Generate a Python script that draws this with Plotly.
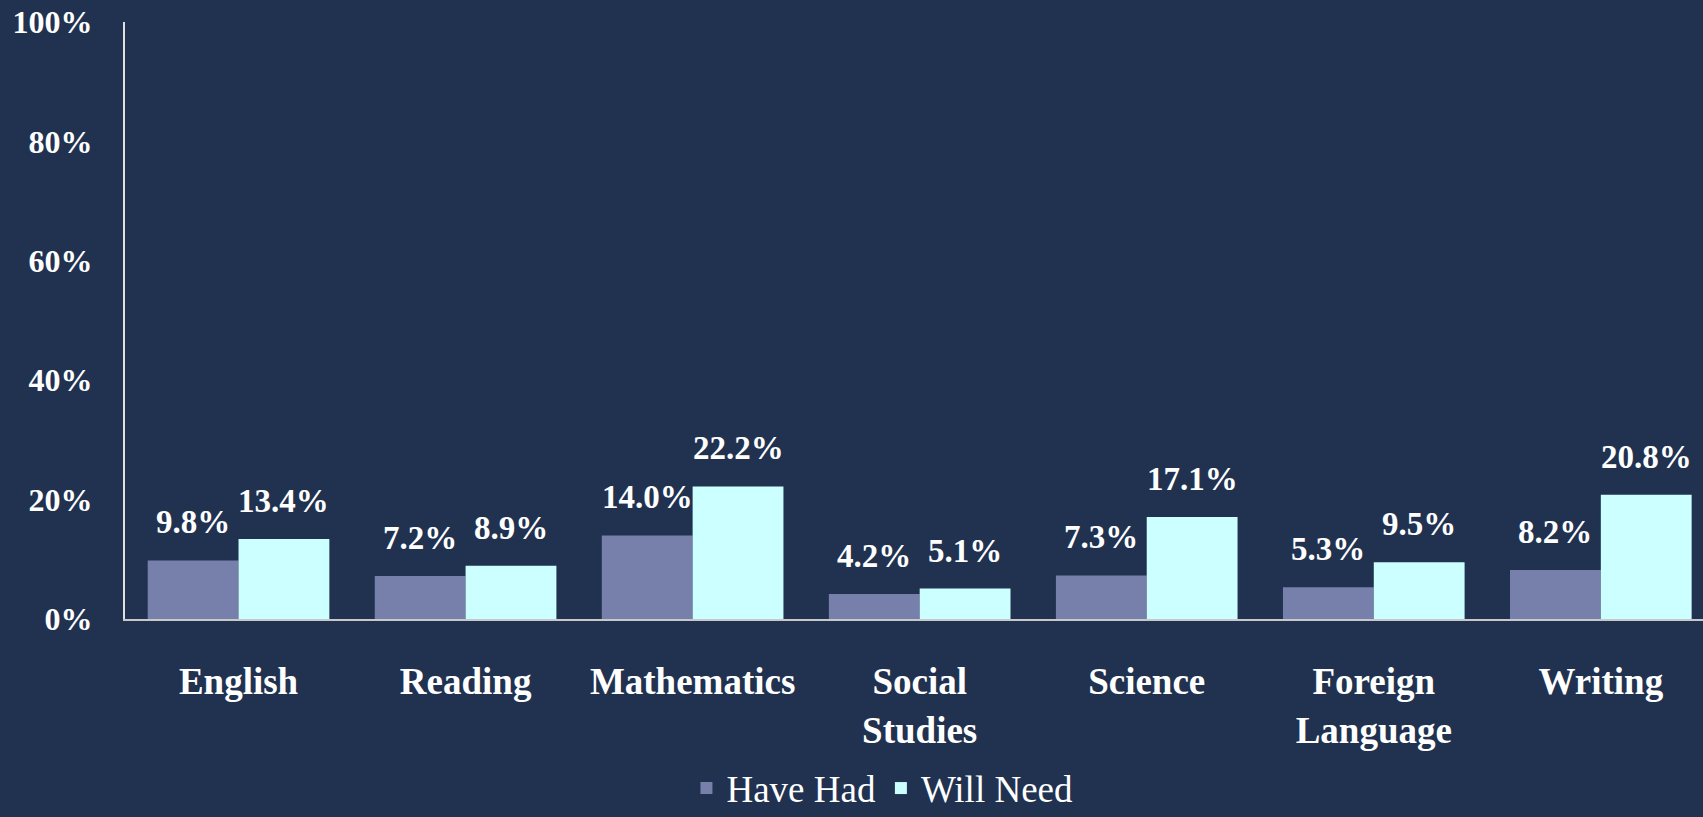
import plotly.graph_objects as go

categories = ["English", "Reading", "Mathematics", "Social<br>Studies", "Science", "Foreign<br>Language", "Writing"]
have_had = [9.8, 7.2, 14.0, 4.2, 7.3, 5.3, 8.2]
will_need = [13.4, 8.9, 22.2, 5.1, 17.1, 9.5, 20.8]
y_ticks = [0, 20, 40, 60, 80, 100]

BG = "#213250"
FONT = "Liberation Serif"
C_HAD = "#7680AB"
C_NEED = "#CCFFFF"

fig = go.Figure()
fig.add_trace(go.Bar(name="Have Had", x=list(range(len(categories))), y=have_had,
                     marker_color=C_HAD, marker_line_width=0))
fig.add_trace(go.Bar(name="Will Need", x=list(range(len(categories))), y=will_need,
                     marker_color=C_NEED, marker_line_width=0))

# value labels placed above each bar (group offset = +/- a quarter of the group width)
bargap = 0.2
half = (1 - bargap) / 4
for i, (a, b) in enumerate(zip(have_had, will_need)):
    for off, v in ((-half, a), (half, b)):
        fig.add_annotation(x=i + off, y=v, xref="x", yref="y", text=f"{v:.1f}%",
                           showarrow=False, yanchor="bottom", yshift=18,
                           font=dict(family=FONT, size=33, color="white", weight="bold"))

fig.update_layout(
    width=1703, height=817,
    paper_bgcolor=BG, plot_bgcolor=BG,
    margin=dict(l=125, r=0, t=22, b=198, autoexpand=False),
    barmode="group", bargap=bargap, bargroupgap=0,
    font=dict(family=FONT, color="white"),
    showlegend=True,
    legend=dict(orientation="h", x=0.48, xanchor="center", y=-0.232, yanchor="top",
                font=dict(family=FONT, size=37, color="white"), bgcolor="rgba(0,0,0,0)",
                traceorder="normal", tracegroupgap=0),
)
fig.update_xaxes(
    range=[-0.5, 6.45], tickvals=list(range(len(categories))), ticktext=categories,
    showgrid=False, showline=True, linecolor="#C8C8C8", linewidth=2,
    ticks="", tickfont=dict(family=FONT, size=37, color="white", weight="bold"),
    ticklabelstandoff=29, zeroline=False,
)
fig.update_yaxes(
    range=[0, 100], tickvals=y_ticks, ticktext=[f"{v}%" for v in y_ticks],
    showgrid=False, showline=True, linecolor="#E0E0E0", linewidth=2,
    ticks="", tickfont=dict(family=FONT, size=32, color="white", weight="bold"),
    ticklabelstandoff=24, zeroline=False,
)

fig.write_html("out.html", config={"displayModeBar": False},
               post_script="document.body.style.margin='0';document.body.style.background='#213250';")
